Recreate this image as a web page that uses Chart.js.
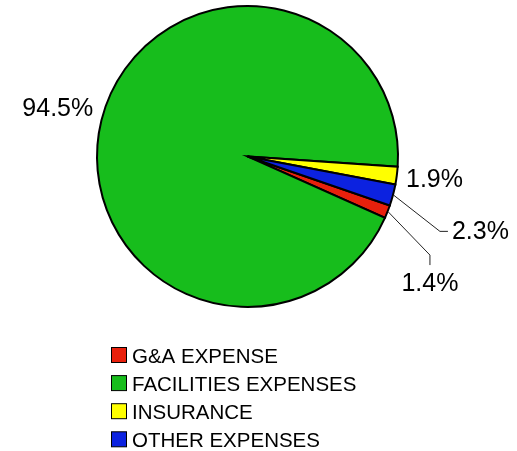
<!DOCTYPE html>
<html>
<head>
<meta charset="utf-8">
<script src="https://cdn.jsdelivr.net/npm/chart.js@4/dist/chart.umd.min.js"></script>
<style>
html,body{margin:0;padding:0;background:#fff;}
canvas{display:block;}
</style>
</head>
<body>
<canvas id="c" width="517" height="451"></canvas>
<script>
// ---- data ----
const categories = ['G&A EXPENSE', 'FACILITIES EXPENSES', 'INSURANCE', 'OTHER EXPENSES'];
const values = [1.4, 94.5, 1.9, 2.3];
const valueLabels = ['1.4%', '94.5%', '1.9%', '2.3%'];

// ---- style ----
const colors = ['#e8200c', '#17bd1c', '#ffff00', '#0c22e0'];
const FONT = '"Liberation Sans", Arial, Helvetica, sans-serif';
// label placement style per slice: plain (radial distance) or leader (elbow offset from rim, then tail)
const labelStyle = [
  {type: 'leader', elbow: [41.5, 43], tail: [0, 10], textAlign: 'center', textOff: [0, 26]},
  {type: 'plain', dist: 45},
  {type: 'plain', dist: 38},
  {type: 'leader', elbow: [46, 36], tail: [8, 0], textAlign: 'left', textOff: [4, 8]}
];

const labelPlugin = {
  id: 'pieLabels',
  afterDraw(chart) {
    const ctx = chart.ctx;
    const meta = chart.getDatasetMeta(0);
    ctx.save();
    ctx.font = '25px ' + FONT;
    ctx.fillStyle = '#000';
    ctx.strokeStyle = '#222';
    ctx.lineWidth = 1;
    meta.data.forEach((arc, i) => {
      const p = arc.getProps(['x', 'y', 'startAngle', 'endAngle', 'outerRadius'], true);
      const mid = (p.startAngle + p.endAngle) / 2;
      const cx = Math.cos(mid), sy = Math.sin(mid);
      const st = labelStyle[i];
      if (st.type === 'plain') {
        const r = p.outerRadius + st.dist;
        ctx.textAlign = 'center';
        ctx.textBaseline = 'middle';
        ctx.fillText(valueLabels[i], p.x + cx * r, p.y + sy * r);
      } else {
        const rx = p.x + cx * (p.outerRadius + 1), ry = p.y + sy * (p.outerRadius + 1);
        const ex = rx + st.elbow[0], ey = ry + st.elbow[1];
        const tx = ex + st.tail[0], ty = ey + st.tail[1];
        ctx.beginPath();
        ctx.moveTo(rx, ry);
        ctx.lineTo(ex, ey);
        ctx.lineTo(tx, ty);
        ctx.stroke();
        ctx.textAlign = st.textAlign;
        ctx.textBaseline = 'alphabetic';
        ctx.fillText(valueLabels[i], tx + st.textOff[0], ty + st.textOff[1]);
      }
    });
    // legend
    ctx.font = '20.5px ' + FONT;
    ctx.textAlign = 'left';
    ctx.textBaseline = 'alphabetic';
    const lx = 111.5, top = 347.5, step = 28.1, box = 15;
    categories.forEach((c, i) => {
      const y = top + i * step;
      ctx.fillStyle = colors[i];
      ctx.fillRect(lx, y, box, box);
      ctx.strokeStyle = '#000';
      ctx.lineWidth = 1;
      ctx.strokeRect(lx, y, box, box);
      ctx.fillStyle = '#000';
      ctx.fillText(c, lx + box + 5.5, y + box);
    });
    ctx.restore();
  }
};

new Chart(document.getElementById('c'), {
  type: 'pie',
  data: {
    labels: categories,
    datasets: [{
      data: values,
      backgroundColor: colors,
      borderColor: '#000',
      borderWidth: 2,
      borderJoinStyle: 'miter'
    }]
  },
  options: {
    responsive: false,
    animation: false,
    rotation: 109,
    radius: 150.5,
    layout: {padding: {left: 0, right: 22, top: 0, bottom: 138}},
    plugins: {
      legend: {display: false},
      tooltip: {enabled: false}
    }
  },
  plugins: [labelPlugin]
});
</script>
</body>
</html>
